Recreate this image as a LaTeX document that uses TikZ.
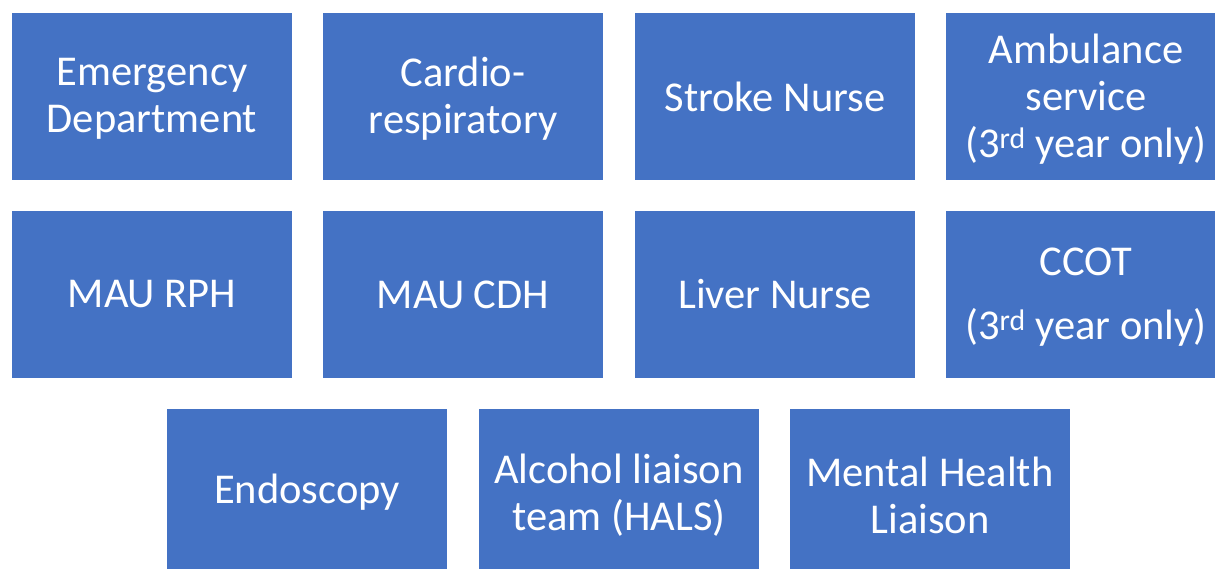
\documentclass[tikz,border=0pt]{standalone}
\usepackage{fontspec}
\setmainfont{Carlito}
\definecolor{offblue}{HTML}{4472C4}
\begin{document}
\begin{tikzpicture}[x=1pt,y=-1pt,
  boxnode/.style={fill=offblue, draw=none, minimum width=280pt, minimum height=167pt,
    inner sep=0pt},
  boxtext/.style={inner sep=0pt, text=white, align=center, font=\fontsize{42.5}{47}\selectfont},
  multitext/.style={boxtext, yshift=-2.5pt}]
\useasboundingbox (0,0) rectangle (1215,568);
\clip (0,0) rectangle (1215,568);
\node[boxnode] (ed) at (152,96.5) {};
\node[boxnode] (cr) at (463,96.5) {};
\node[boxnode] (sn) at (775,96.5) {};
\node[boxnode] (am) at (1086,96.5) {};
\node[boxnode] (mr) at (152,294.5) {};
\node[boxnode] (mc) at (463,294.5) {};
\node[boxnode] (ln) at (775,294.5) {};
\node[boxnode] (cc) at (1086,294.5) {};
\node[boxnode] (en) at (307,492.5) {};
\node[boxnode] (al) at (619,492.5) {};
\node[boxnode] (mh) at (930,492.5) {};
\node[multitext] (edt) at (ed) {Emergency\\Department};
\node[multitext] (crt) at (cr) {Cardio-\\respiratory};
\node[boxtext] (snt) at (sn) {Stroke Nurse};
\node[multitext] (amt) at (am) {Ambulance\\service\\(3\textsuperscript{rd} year only)};
\node[boxtext] (mrt) at (mr) {MAU RPH};
\node[boxtext] (mct) at (mc) {MAU CDH};
\node[boxtext] (lnt) at (ln) {Liver Nurse};
\node[multitext] (cct) at (cc) {CCOT\\[17pt](3\textsuperscript{rd} year only)};
\node[boxtext] (ent) at (en) {Endoscopy};
\node[multitext] (alt) at (al) {Alcohol liaison\\team (HALS)};
\node[multitext] (mht) at (mh) {Mental Health\\Liaison};
\end{tikzpicture}
\end{document}
